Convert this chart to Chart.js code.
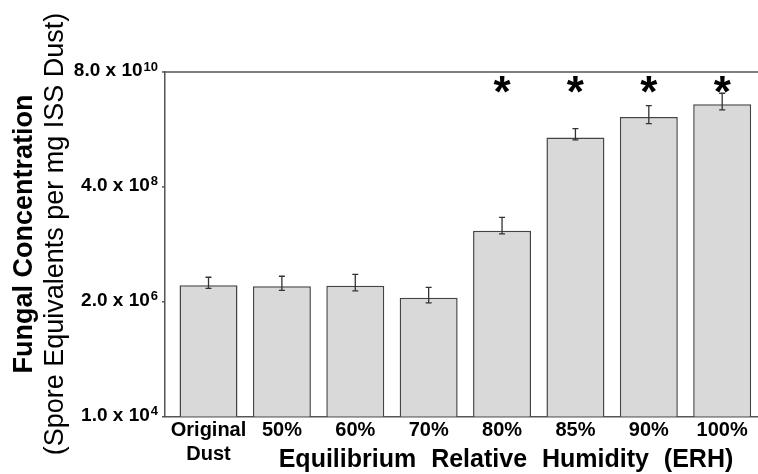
<!DOCTYPE html>
<html>
<head>
<meta charset="utf-8">
<script src="https://cdn.jsdelivr.net/npm/chart.js@4.4.0/dist/chart.umd.min.js"></script>
<style>
  html, body { margin: 0; padding: 0; background: #fff; }
  #wrap { width: 758px; height: 474px; }
</style>
</head>
<body>
<div id="wrap"><canvas id="myChart"></canvas></div>
<script>
const categories = [['Original', 'Dust'], '50%', '60%', '70%', '80%', '85%', '90%', '100%'];
const concentration = [4.3e6, 4.1e6, 4.2e6, 2.4e6, 5.3e7, 3.9e9, 1.0e10, 1.8e10];
const errHigh = [6.2e6, 6.5e6, 7.1e6, 3.9e6, 9.8e7, 5.9e9, 1.7e10, 3.0e10];
const errLow = [3.7e6, 3.4e6, 3.3e6, 1.9e6, 4.6e7, 3.5e9, 7.4e9, 1.4e10];
const significant = [false, false, false, false, true, true, true, true];
const yTicks = [1e4, 2e6, 4e8, 8e10];
const yTickBase = ['1.0 x 10', '2.0 x 10', '4.0 x 10', '8.0 x 10'];
const yTickExp = ['4', '6', '8', '10'];

const FONT = "'Liberation Sans', Arial, sans-serif";

// error bars, asterisks, top frame, y labels with superscripts and axis titles
const extras = {
  id: 'extras',
  afterDraw(chart) {
    const ctx = chart.ctx;
    const area = chart.chartArea;
    const y = chart.scales.y;
    const meta = chart.getDatasetMeta(0);
    ctx.save();

    // error bars
    ctx.strokeStyle = '#333';
    ctx.lineWidth = 1.3;
    meta.data.forEach((bar, i) => {
      const yh = y.getPixelForValue(errHigh[i]);
      const yl = y.getPixelForValue(errLow[i]);
      ctx.beginPath();
      ctx.moveTo(bar.x, yh); ctx.lineTo(bar.x, yl);
      ctx.moveTo(bar.x - 3, yh); ctx.lineTo(bar.x + 3, yh);
      ctx.moveTo(bar.x - 3, yl); ctx.lineTo(bar.x + 3, yl);
      ctx.stroke();
    });

    // significance stars
    ctx.fillStyle = '#000';
    ctx.font = 'bold 44px ' + FONT;
    ctx.textAlign = 'center';
    ctx.textBaseline = 'alphabetic';
    const m = ctx.measureText('*');
    const mid = (m.actualBoundingBoxAscent - m.actualBoundingBoxDescent) / 2;
    meta.data.forEach((bar, i) => {
      if (significant[i]) ctx.fillText('*', bar.x, area.top + 12 + mid);
    });

    // top frame line
    ctx.strokeStyle = '#555';
    ctx.lineWidth = 1.5;
    ctx.beginPath();
    ctx.moveTo(area.left, area.top);
    ctx.lineTo(area.right, area.top);
    ctx.stroke();

    // y ticks with superscript exponents
    yTicks.forEach((v, i) => {
      const py = y.getPixelForValue(v);
      ctx.beginPath();
      ctx.moveTo(area.left - 3, py);
      ctx.lineTo(area.left, py);
      ctx.stroke();
      ctx.textAlign = 'left';
      ctx.font = 'bold 13px ' + FONT;
      const sw = ctx.measureText(yTickExp[i]).width;
      const sx = area.left - 7 - sw;
      ctx.fillText(yTickExp[i], sx, py - 1.5);
      ctx.textAlign = 'right';
      ctx.font = 'bold 19px ' + FONT;
      ctx.fillText(yTickBase[i], sx - 1, py + 4);
    });

    // y axis title, two lines
    ctx.save();
    ctx.textAlign = 'center';
    ctx.translate(32, 234);
    ctx.rotate(-Math.PI / 2);
    ctx.font = 'bold 27px ' + FONT;
    ctx.fillText('Fungal Concentration', 0, 0);
    ctx.restore();
    ctx.save();
    ctx.textAlign = 'center';
    ctx.translate(63, 234);
    ctx.rotate(-Math.PI / 2);
    ctx.font = '27px ' + FONT;
    ctx.fillText('(Spore Equivalents per mg ISS Dust)', 0, 0);
    ctx.restore();

    // x axis title
    ctx.textAlign = 'center';
    ctx.font = 'bold 25px ' + FONT;
    if ('wordSpacing' in ctx) ctx.wordSpacing = '8px';
    ctx.fillText('Equilibrium Relative Humidity (ERH)', 506, area.bottom + 50);
    ctx.restore();
  }
};

const ctx = document.getElementById('myChart').getContext('2d');
const chart = new Chart(ctx, {
  type: 'bar',
  data: {
    datasets: [{
      data: concentration.map((v, i) => ({ x: i, y: v })),
      backgroundColor: '#d9d9d9',
      borderColor: '#444',
      borderWidth: 1.5,
      barPercentage: 0.79,
      categoryPercentage: 1.0
    }]
  },
  options: {
    responsive: true,
    maintainAspectRatio: false,
    animation: false,
    layout: { padding: { top: 72, left: 0, right: 0, bottom: 0 } },
    plugins: { legend: { display: false }, tooltip: { enabled: false } },
    scales: {
      x: {
        type: 'linear',
        offset: false,
        min: -0.593,
        max: 7.488,
        afterBuildTicks: s => { s.ticks = categories.map((c, i) => ({ value: i })); },
        afterFit: s => { s.height = 57.3; },
        grid: { display: false, drawTicks: false, offset: false },
        border: { color: '#555', width: 1.5 },
        ticks: {
          callback: v => categories[v],
          autoSkip: false,
          maxRotation: 0,
          padding: 2,
          color: '#000',
          font: { family: FONT, size: 20, weight: 'bold' }
        }
      },
      y: {
        type: 'logarithmic',
        min: 1e4,
        max: 8e10,
        afterBuildTicks: s => { s.ticks = yTicks.map(v => ({ value: v })); },
        afterFit: s => { s.width = 165; },
        grid: { display: false },
        border: { color: '#555', width: 1.5 },
        ticks: { display: false }
      }
    }
  },
  plugins: [extras]
});
</script>
</body>
</html>
